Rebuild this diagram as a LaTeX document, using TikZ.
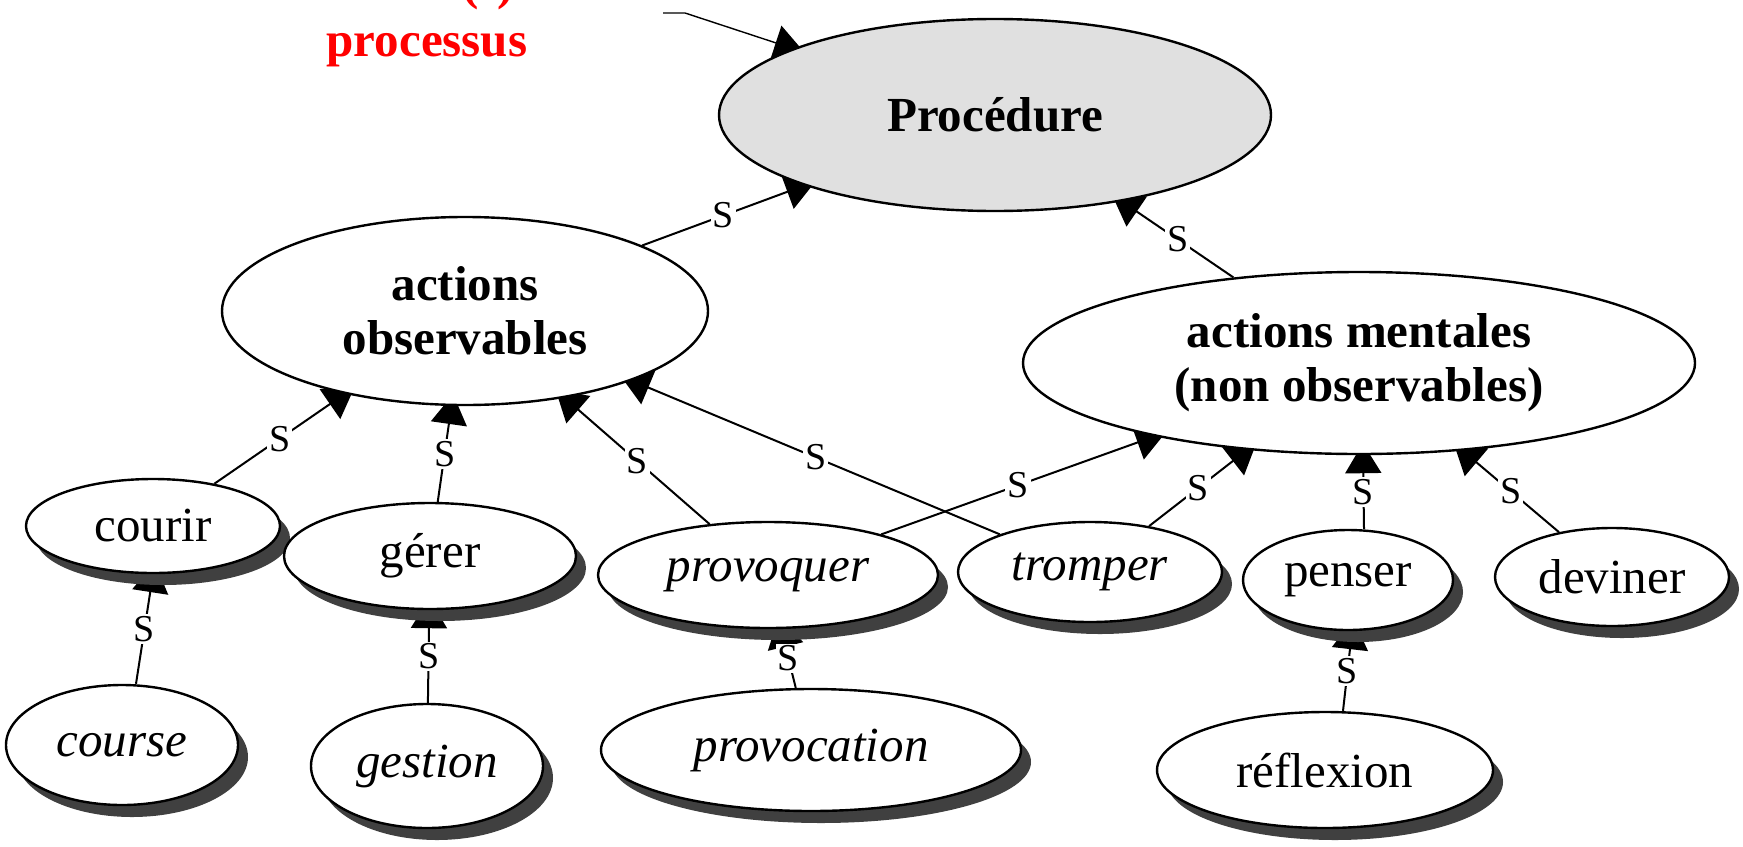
\documentclass[tikz,border=0pt]{standalone}
\usepackage{fontspec}
\setmainfont{Liberation Serif}
\usetikzlibrary{shapes.geometric,shadows,arrows.meta,backgrounds}
\definecolor{procgray}{HTML}{E0E0E0}
\definecolor{shadowgray}{HTML}{404040}

\begin{document}
\begin{tikzpicture}[
        x=0.5pt, y=-0.5pt,
        concept/.style={ellipse, draw, line width=1.2pt, fill=white, inner sep=0pt, align=center,
            font=\fontsize{24.5pt}{27pt}\selectfont},
        bold/.style={font=\fontsize{24.5pt}{27pt}\selectfont\bfseries},
        ital/.style={font=\fontsize{24.5pt}{27pt}\selectfont\itshape},
        dims/.style 2 args={minimum width=#1pt, minimum height=#2pt},
        shadowed/.style={drop shadow={shadow xshift=5pt, shadow yshift=-6pt, fill=shadowgray, opacity=1}},
        sarrow/.style={draw, line width=1pt, -{Triangle[length=15pt, width=18pt]}, shorten >=-6pt},
        slabel/.style={fill=white, inner sep=1pt, font=\fontsize{19pt}{20pt}\selectfont},
        redlbl/.style={text=red, inner sep=0pt, font=\fontsize{24.5pt}{25.5pt}\selectfont\bfseries},
    ]
    \useasboundingbox (0,0) rectangle (1743,846);

    % top level
    \node[concept, bold, dims={276}{96}, fill=procgray] (proc) at (995,115) {Procédure};
    \node[concept, bold, dims={243}{94}] (obs) at (465,311) {actions\\observables};
    \node[concept, bold, dims={336}{91}] (ment) at (1359,363) {actions mentales\\(non observables)};

    % verbs
    \node[concept, shadowed, dims={127}{47}] (courir) at (153,526) {courir};
    \node[concept, shadowed, dims={146}{53}] (gerer) at (430,556) {gérer};
    \node[concept, shadowed, ital, dims={170}{53}] (provoquer) at (768,575) {provoquer};
    \node[concept, shadowed, ital, dims={132}{50}] (tromper) at (1090,572) {tromper};
    \node[concept, shadowed, dims={105}{50}] (penser) at (1348,580) {penser};
    \node[concept, shadowed, dims={117}{49}] (deviner) at (1612,577) {deviner};

    % nouns
    \node[concept, shadowed, ital, dims={116}{60}] (course) at (122,745) {course};
    \node[concept, shadowed, ital, dims={116}{62}] (gestion) at (427,766) {gestion};
    \node[concept, shadowed, ital, dims={210}{61}] (provocation) at (811,750) {provocation};
    \node[concept, shadowed, dims={168}{58}] (reflexion) at (1325,770) {réflexion};

    % red note
    \node[redlbl, anchor=base] (noteA) at (446,-1) {acte(s)};
    \node[redlbl, anchor=base] (noteB) at (427,56) {processus};
    \coordinate (ptrA) at (663,13);
    \coordinate (ptrB) at (685,13);

    \begin{pgfonlayer}{background}
        \draw[sarrow, line width=0.7pt] (ptrA) -- (ptrB) -- (proc);
        \draw[sarrow] (obs) -- node[slabel]{S} (proc);
        \draw[sarrow] (ment) -- node[slabel]{S} (proc);
        \draw[sarrow] (courir) -- node[slabel]{S} (obs);
        \draw[sarrow] (gerer) -- node[slabel]{S} (obs);
        \draw[sarrow] (provoquer) -- node[slabel]{S} (obs);
        \draw[sarrow] (tromper) -- node[slabel]{S} (obs);
        \draw[sarrow] (provoquer) -- node[slabel]{S} (ment);
        \draw[sarrow] (tromper) -- node[slabel]{S} (ment);
        \draw[sarrow] ([xshift=8pt]penser.north) -- node[slabel]{S} ([xshift=2pt]ment.south);
        \draw[sarrow] (deviner) -- node[slabel]{S} (ment);
        \draw[sarrow] ([xshift=7pt]course.north) -- node[slabel]{S} (courir.south);
        \draw[sarrow] (gestion) -- node[slabel]{S} (gerer);
        \draw[sarrow] (provocation) -- node[slabel]{S} (provoquer);
        \draw[sarrow] ([xshift=9pt]reflexion.north) -- node[slabel]{S} ([xshift=2pt]penser.south);
    \end{pgfonlayer}

\end{tikzpicture}
\end{document}
